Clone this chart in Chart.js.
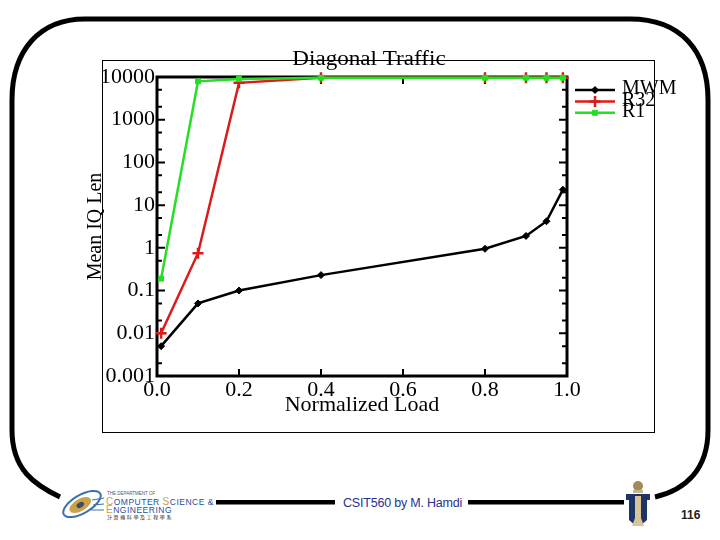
<!DOCTYPE html>
<html>
<head>
<meta charset="utf-8">
<script src="https://cdn.jsdelivr.net/npm/chart.js@4"></script>
<style>
  html, body { margin: 0; padding: 0; background: #fff; }
  #slide { position: relative; width: 720px; height: 540px; overflow: hidden; background: #fff; }
  #frame, #box, #chart, .txt { position: absolute; }
  #frame { left: 0; top: 0; }
  #box { left: 102px; top: 60px; width: 551px; height: 371px; border: 1px solid #000; }
  #chart { left: 0; top: 0; }
  .txt { white-space: nowrap; }
  #credit { left: 343px; top: 496px; font: 12.5px 'Liberation Sans', Arial, sans-serif; color: #28318c; letter-spacing: -0.2px; }
  #page { left: 681px; top: 508px; font: bold 12px 'Liberation Sans', Arial, sans-serif; color: #222; }
  .dept { font-family: 'Liberation Sans', Arial, sans-serif; color: #1f4e9a; }
</style>
</head>
<body>
<div id="slide">
  <svg id="frame" width="720" height="540">
    <!-- rounded slide border -->
    <path d="M60 497 C35 485 12 470 12 430 L12 100 C12 50 40 19 85 19 L630 19 C680 19 708 50 708 100 L708 430 C708 470 685 490 655 497"
          fill="none" stroke="#000" stroke-width="5"/>
    <rect x="216" y="500" width="119" height="4.5" fill="#000"/>
    <rect x="468" y="500" width="156" height="4.5" fill="#000"/>
    <!-- dept logo (rough) -->
    <g transform="rotate(-30 82 504)">
      <ellipse cx="82" cy="504" rx="21" ry="9" fill="none" stroke="#3a6fb0" stroke-width="2"/>
      <ellipse cx="80" cy="504" rx="12" ry="6" fill="#c9a24a"/>
      <ellipse cx="80" cy="504" rx="4" ry="2.5" fill="#3a4a6a"/>
    </g>
    <path d="M92 500 L104 498 M93 505 L104 504 M91 510 L104 510" stroke="#3a6fb0" stroke-width="1"/>
    <!-- hkust logo (rough) -->
    <circle cx="638" cy="486" r="5" fill="#a38a5a"/>
    <rect x="633" y="490" width="10" height="3" fill="#c8b48a"/>
    <path d="M626 494 L650 494 L650 500 L647 500 L647 520 L640 526 L636 526 L629 520 L629 500 L626 500 Z" fill="#1d3566"/>
    <path d="M635 496 L641 496 L641 518 L644 526 L632 526 L635 518 Z" fill="#d9c49a"/>
  </svg>
  <div id="box"></div>
  <div class="txt dept" style="left:107px;top:491px;font-size:4.5px;color:#555;">THE DEPARTMENT OF</div>
  <div class="txt dept" style="left:106px;top:496px;font-size:8.5px;letter-spacing:0.5px;"><span style="color:#c9a24a;font-size:10px">C</span>OMPUTER <span style="color:#c9a24a;font-size:10px">S</span>CIENCE &amp;</div>
  <div class="txt dept" style="left:106px;top:504px;font-size:8.5px;letter-spacing:0.5px;"><span style="color:#c9a24a;font-size:10px">E</span>NGINEERING</div>
  <div class="txt" style="left:107px;top:513px;font:5px 'Noto Sans CJK TC',sans-serif;color:#333;letter-spacing:1.6px;">計算機科學及工程學系</div>
  <div id="credit" class="txt">CSIT560 by M. Hamdi</div>
  <div id="page" class="txt">116</div>
  <canvas id="chart" width="720" height="540"></canvas>
</div>

<script>
'use strict';

// ── Data ──────────────────────────────────────────────────────────────────────
const loads  = [0.01, 0.1, 0.2, 0.4, 0.8, 0.9, 0.95, 0.99];
const mwm    = [0.005, 0.05, 0.1, 0.23, 0.95, 1.9, 4.2, 23];
const r32    = [0.01, 0.75, 7300, 9600, 9600, 9600, 9600, 9600];
const r1     = [0.19, 7900, 9000, 9600, 9600, 9600, 9600, 9600];
const seriesNames = ['MWM', 'R32', 'R1'];
const chartTitle  = 'Diagonal Traffic';

const xTicks      = [0, 0.2, 0.4, 0.6, 0.8, 1.0];
const yTicks      = [0.001, 0.01, 0.1, 1, 10, 100, 1000, 10000];
const yTickLabels = ['0.001', '0.01', '0.1', '1', '10', '100', '1000', '10000'];
const yMinorMult  = [2, 5];

const SERIF = "'Liberation Serif', 'Times New Roman', serif";

const pts = (ys) => loads.map((x, i) => ({ x, y: ys[i] }));

// ── Plugins ───────────────────────────────────────────────────────────────────
// frame + inward ticks on all four sides
const framePlugin = {
  id: 'frame',
  beforeDatasetsDraw(chart) {
    const { ctx, chartArea: a, scales: { x, y } } = chart;
    ctx.save();
    ctx.strokeStyle = '#000';
    ctx.lineWidth = 3;
    ctx.strokeRect(a.left, a.top, a.right - a.left, a.bottom - a.top);
    ctx.lineWidth = 2;
    ctx.beginPath();
    xTicks.forEach(v => {
      const px = x.getPixelForValue(v);
      ctx.moveTo(px, a.bottom); ctx.lineTo(px, a.bottom - 7);
      ctx.moveTo(px, a.top);    ctx.lineTo(px, a.top + 7);
    });
    yTicks.forEach((v, i) => {
      const py = y.getPixelForValue(v);
      ctx.moveTo(a.left, py);  ctx.lineTo(a.left + 8, py);
      ctx.moveTo(a.right, py); ctx.lineTo(a.right - 8, py);
      if (i < yTicks.length - 1) {
        yMinorMult.forEach(m => {
          const pm = y.getPixelForValue(v * m);
          ctx.moveTo(a.left, pm);  ctx.lineTo(a.left + 5, pm);
          ctx.moveTo(a.right, pm); ctx.lineTo(a.right - 5, pm);
        });
      }
    });
    ctx.stroke();
    ctx.restore();
  }
};

// title (slightly stretched, sits on the picture's border) + side legend
const textPlugin = {
  id: 'sideText',
  afterDraw(chart) {
    const { ctx } = chart;
    ctx.save();
    ctx.fillStyle = '#000';
    ctx.font = '21px ' + SERIF;
    ctx.textAlign = 'center';
    ctx.textBaseline = 'middle';
    ctx.translate(369, 59);
    ctx.scale(1.1, 1);
    ctx.fillText(chartTitle, 0, 0);
    ctx.restore();

    const x0 = 575, x1 = 615, tx = 622, y0 = 90, dy = 11.4;
    ctx.save();
    chart.data.datasets.forEach((ds, i) => {
      const yy = y0 + i * dy;
      ctx.strokeStyle = ds.borderColor;
      ctx.lineWidth = 2.5;
      ctx.beginPath(); ctx.moveTo(x0, yy); ctx.lineTo(x1, yy); ctx.stroke();
      ctx.fillStyle = ds.pointBackgroundColor;
      ctx.strokeStyle = ds.borderColor;
      ctx.lineWidth = ds.pointBorderWidth;
      Chart.helpers.drawPoint(ctx, { pointStyle: ds.pointStyle, radius: ds.pointRadius, rotation: 0, borderWidth: ds.pointBorderWidth }, (x0 + x1) / 2, yy);
      ctx.fillStyle = '#000';
      ctx.font = '20px ' + SERIF;
      ctx.textBaseline = 'middle';
      ctx.textAlign = 'left';
      ctx.fillText(ds.label, tx, yy - 1);
    });
    ctx.restore();
  }
};

// ── Chart ─────────────────────────────────────────────────────────────────────
new Chart(document.getElementById('chart'), {
  type: 'line',
  data: {
    datasets: [
      {
        label: seriesNames[0], data: pts(mwm), order: 2,
        borderColor: '#000', backgroundColor: '#000', pointBackgroundColor: '#000',
        borderWidth: 2.5, pointStyle: 'rectRot', pointRadius: 3.5, pointBorderWidth: 1, clip: false,
      },
      {
        label: seriesNames[1], data: pts(r32), order: 1,
        borderColor: '#dc1a1a', backgroundColor: '#dc1a1a', pointBackgroundColor: '#dc1a1a',
        borderWidth: 2.5, pointStyle: 'cross', pointRadius: 5.5, pointBorderWidth: 2.5, clip: false,
      },
      {
        label: seriesNames[2], data: pts(r1), order: 0,
        borderColor: '#22e022', backgroundColor: '#22e022', pointBackgroundColor: '#22e022',
        borderWidth: 2.5, pointStyle: 'rect', pointRadius: 3.5, pointBorderWidth: 1, clip: false,
      },
    ]
  },
  options: {
    responsive: false,
    animation: false,
    devicePixelRatio: 1,
    layout: { padding: { left: 84, right: 153, top: 77, bottom: 122 } },
    plugins: {
      legend: { display: false },
      tooltip: { enabled: false },
      title: { display: false },
    },
    scales: {
      x: {
        type: 'linear', min: 0, max: 1,
        afterBuildTicks: s => { s.ticks = xTicks.map(v => ({ value: v })); },
        afterFit: s => { s.height = 42; },
        grid: { display: false, drawTicks: false },
        border: { display: false },
        ticks: {
          color: '#000', padding: 1, maxRotation: 0, autoSkip: false,
          font: { family: SERIF, size: 22 },
          callback: v => Number(v).toFixed(1),
        },
        title: {
          display: true, text: 'Normalized Load', color: '#000', padding: { top: 0, bottom: 0 },
          font: { family: SERIF, size: 22 },
        },
      },
      y: {
        type: 'logarithmic', min: 0.001, max: 10000,
        afterBuildTicks: s => { s.ticks = yTicks.map(v => ({ value: v })); },
        afterFit: s => { s.width = 73; },
        grid: { display: false, drawTicks: false },
        border: { display: false },
        ticks: {
          color: '#000', padding: 2, autoSkip: false,
          font: { family: SERIF, size: 22 },
          callback: v => {
            const i = yTicks.findIndex(t => Math.abs(Math.log10(t) - Math.log10(v)) < 1e-6);
            return i >= 0 ? yTickLabels[i] : '';
          },
        },
        title: {
          display: true, text: 'Mean IQ Len', color: '#000', padding: 0,
          font: { family: SERIF, size: 20 },
        },
      },
    },
  },
  plugins: [framePlugin, textPlugin],
});
</script>
</body>
</html>
